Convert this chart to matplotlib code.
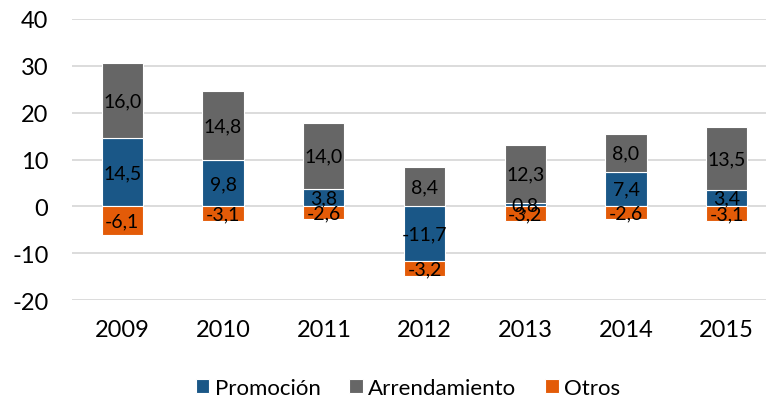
import matplotlib
matplotlib.use("Agg")
import matplotlib.pyplot as plt
import numpy as np

years = ["2009", "2010", "2011", "2012", "2013", "2014", "2015"]
promocion = [14.5, 9.8, 3.8, -11.7, 0.8, 7.4, 3.4]
arrendamiento = [16.0, 14.8, 14.0, 8.4, 12.3, 8.0, 13.5]
otros = [-6.1, -3.1, -2.6, -3.2, -3.2, -2.6, -3.1]
series_names = ["Promoción", "Arrendamiento", "Otros"]
colors = ["#1a5787", "#666666", "#e35b08"]
yticks = [-20, -10, 0, 10, 20, 30, 40]

plt.rcParams['font.family'] = ['Lato', 'DejaVu Sans']

fig = plt.figure(figsize=(7.66, 4.02), dpi=100)
ax = fig.add_axes([72/766, 101/402, (766-72)/766, 281/402])

x = np.arange(len(years))
pos_base = np.zeros(len(years))
neg_base = np.zeros(len(years))
width = 0.41

def fmt(v):
    return f"{v:.1f}".replace(".", ",")

for name, vals, col in zip(series_names, [promocion, arrendamiento, otros], colors):
    vals = np.array(vals)
    bottoms = np.where(vals >= 0, pos_base, neg_base)
    ax.bar(x, vals, width, bottom=bottoms, color=col, edgecolor="white",
           linewidth=0.8, label=name, zorder=3)
    for xi, b, v in zip(x, bottoms, vals):
        ax.text(xi, b + v / 2, fmt(v), ha="center", va="center",
                fontsize=14, color="black", zorder=4)
    pos_base = np.where(vals >= 0, pos_base + vals, pos_base)
    neg_base = np.where(vals < 0, neg_base + vals, neg_base)

ax.set_ylim(-20, 40)
ax.set_xlim(-0.5, 6.39)
ax.set_yticks(yticks)
ax.set_yticklabels([str(t) for t in yticks])
ax.set_xticks(x)
ax.set_xticklabels(years)
ax.tick_params(axis="both", length=0, labelsize=17, colors="black")
ax.tick_params(axis="y", pad=17)
ax.tick_params(axis="x", pad=14)
ax.grid(axis="y", color="#d9d9d9", linewidth=1.3, zorder=0)
for s in ax.spines.values():
    s.set_visible(False)

leg = fig.legend(loc="center", bbox_to_anchor=(408/766, 1 - 389/402), ncol=3,
                 frameon=False, fontsize=16, handlelength=0.6, handleheight=0.6,
                 handletextpad=0.25, columnspacing=1.3)

fig.savefig("out.png", dpi=100)
